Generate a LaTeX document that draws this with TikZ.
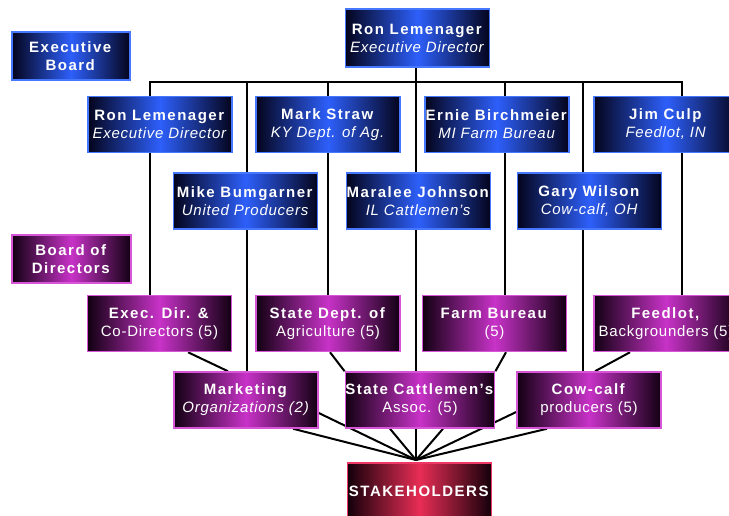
\documentclass[tikz,border=0pt]{standalone}
\usepackage{fontspec}
\setmainfont{Liberation Sans}[LetterSpace=5,BoldFeatures={LetterSpace=10}]
\usetikzlibrary{backgrounds}
\definecolor{bdark}{RGB}{4,4,28}
\definecolor{bblue}{RGB}{45,95,250}
\definecolor{bborder}{RGB}{70,120,255}
\definecolor{mdark}{RGB}{18,0,18}
\definecolor{mmag}{RGB}{200,50,200}
\definecolor{mborder}{RGB}{215,85,215}
\definecolor{rdark}{RGB}{20,0,10}
\definecolor{rred}{RGB}{232,45,85}
\definecolor{rborder}{RGB}{238,55,100}
\begin{document}
\begin{tikzpicture}[x=1pt,y=-1pt,
  box/.style={minimum width=144pt, minimum height=56pt, inner sep=0pt,
    line width=1.5pt, align=center, text=white,
    font=\fontsize{15}{18}\selectfont},
  bluebox/.style={box, draw=bborder, left color=bdark, right color=bdark, middle color=bblue},
  magbox/.style={box, draw=mborder, left color=mdark, right color=mdark, middle color=mmag},
  redbox/.style={box, draw=rborder, left color=rdark, right color=rdark, middle color=rred},
  conn/.style={line width=2pt, black, line join=miter}]
\useasboundingbox (0,0) rectangle (729,516);
\clip (0,0) rectangle (729,516);

% legend boxes
\node[bluebox, minimum width=118pt, minimum height=48pt] (eb) at (71,56) {\textbf{Executive}\\\textbf{Board}};
\node[magbox, minimum width=119pt, minimum height=48pt] (bd) at (71.5,259) {\textbf{Board of}\\\textbf{Directors}};

% executive director
\node[bluebox, minimum height=58pt] (top) at (417.5,38) {\textbf{Ron Lemenager}\\\textit{Executive Director}};

% executive board row 1
\node[bluebox] (ron) at (160,124.5) {\textbf{Ron Lemenager}\\\textit{Executive Director}};
\node[bluebox] (mark) at (328,124.5) {\textbf{Mark Straw}\\\textit{KY Dept. of Ag.}};
\node[bluebox] (ernie) at (497,124.5) {\textbf{Ernie Birchmeier}\\\textit{MI Farm Bureau}};
\node[bluebox] (jim) at (666,124.5) {\textbf{Jim Culp}\\\textit{Feedlot, IN}};

% executive board row 2
\node[bluebox] (mike) at (245.5,201) {\textbf{Mike Bumgarner}\\\textit{United Producers}};
\node[bluebox] (maralee) at (418.5,201) {\textbf{Maralee Johnson}\\\textit{IL Cattlemen's}};
\node[bluebox] (gary) at (589.5,201) {\textbf{Gary Wilson}\\\textit{Cow-calf, OH}};

% board of directors row 1
\node[magbox] (exec) at (159.5,323.5) {\textbf{Exec. Dir. \&}\\Co-Directors (5)};
\node[magbox] (statedept) at (328,323.5) {\textbf{State Dept. of}\\Agriculture (5)};
\node[magbox] (farm) at (494.5,323.5) {\textbf{Farm Bureau}\\(5)};
\node[magbox] (feedlot) at (666,323.5) {\textbf{Feedlot,}\\Backgrounders (5)};

% board of directors row 2
\node[magbox] (marketing) at (246,400) {\textbf{Marketing}\\\textit{Organizations (2)}};
\node[magbox] (cattle) at (420,400) {\textbf{State Cattlemen's}\\Assoc. (5)};
\node[magbox] (cowcalf) at (589,400) {\textbf{Cow-calf}\\producers (5)};

% stakeholders
\node[redbox] (stake) at (419.5,491) {\textbf{STAKEHOLDERS}};

\coordinate (d1) at (150,82);
\coordinate (d2) at (247,82);
\coordinate (d3) at (328,82);
\coordinate (d4) at (416,82);
\coordinate (d5) at (505,82);
\coordinate (d6) at (583,82);
\coordinate (d7) at (682,82);
\coordinate (hub) at (416,460);

\begin{pgfonlayer}{background}
\draw[conn] (d1 |- exec.north) -- (d1) -- (d7) -- (d7 |- feedlot.north);
\draw[conn] (top.south -| d4) -- (d4) -- (hub);
\draw[conn] (d2) -- (d2 |- marketing.north);
\draw[conn] (d3) -- (d3 |- statedept.north);
\draw[conn] (d5) -- (d5 |- farm.north);
\draw[conn] (d6) -- (d6 |- cowcalf.north);

\draw[conn] ([xshift=28.5pt]exec.south) -- ([xshift=-18pt]marketing.north);
\draw[conn] ([xshift=2pt]statedept.south) -- (cattle.north west);
\draw[conn] ([xshift=11.5pt]farm.south) -- (cattle.north east);
\draw[conn] ([xshift=-36pt]feedlot.south) -- ([xshift=6pt]cowcalf.north);

\draw[conn] (hub) -- ([xshift=47pt]marketing.south);
\draw[conn] (hub) -- ([yshift=-13pt]marketing.east);
\draw[conn] (hub) -- ([xshift=-30pt]cattle.south);
\draw[conn] (hub) -- ([xshift=23pt]cattle.south);
\draw[conn] (hub) -- ([yshift=-12pt]cowcalf.west);
\draw[conn] (hub) -- ([xshift=-42pt]cowcalf.south);
\end{pgfonlayer}
\end{tikzpicture}
\end{document}
